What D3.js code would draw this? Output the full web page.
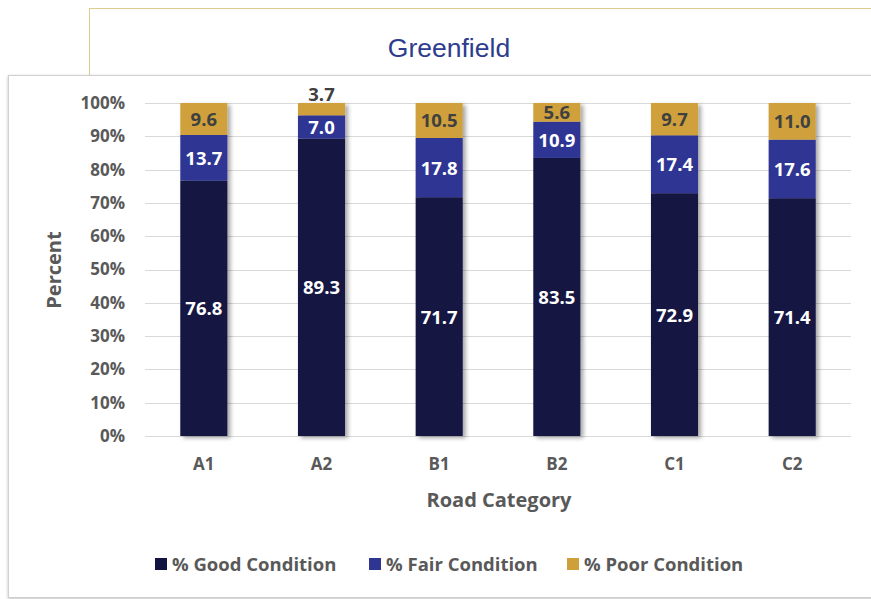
<!DOCTYPE html>
<html lang="en">
  <head>
    <meta charset="utf-8">
    <title>Greenfield</title>
    <script src="https://d3js.org/d3.v7.min.js"></script>
    <style type="text/css">
      body { margin: 0; background: #fff; }
      text { font-family: "Open Sans", Lato, sans-serif; font-weight: bold; }
      .grid line { stroke: #d9d9d9; stroke-width: 1px; }
      .axis text { fill: #595959; font-size: 17px; }
    </style>
  </head>
  <body>
    <script>
      var w = 871, h = 599;

      var categories = ["A1", "A2", "B1", "B2", "C1", "C2"];
      var good = [76.8, 89.3, 71.7, 83.5, 72.9, 71.4];
      var fair = [13.7, 7.0, 17.8, 10.9, 17.4, 17.6];
      var poor = [9.6, 3.7, 10.5, 5.6, 9.7, 11.0];
      var seriesNames = ["% Good Condition", "% Fair Condition", "% Poor Condition"];
      var colors = ["#131342", "#2e3592", "#cfa03a"];
      var labelColors = ["#ffffff", "#ffffff", "#404040"];
      var yTicks = [0, 0.1, 0.2, 0.3, 0.4, 0.5, 0.6, 0.7, 0.8, 0.9, 1];

      var svg = d3.select("body").append("svg")
          .attr("width", w).attr("height", h);

      var defs = svg.append("defs");
      var f = defs.append("filter").attr("id", "shadow")
          .attr("x", "-20%").attr("y", "-20%").attr("width", "160%").attr("height", "140%");
      f.append("feDropShadow").attr("dx", 3).attr("dy", 2).attr("stdDeviation", 2)
          .attr("flood-color", "#000").attr("flood-opacity", 0.35);
      var bf = defs.append("filter").attr("id", "boxshadow")
          .attr("x", "-5%").attr("y", "-5%").attr("width", "110%").attr("height", "110%");
      bf.append("feDropShadow").attr("dx", 0).attr("dy", 1).attr("stdDeviation", 1.5)
          .attr("flood-color", "#000").attr("flood-opacity", 0.25);

      // title box behind
      svg.append("rect").attr("x", 89.5).attr("y", 8.5).attr("width", 800).attr("height", 120)
          .attr("fill", "#fff").attr("stroke", "#e2c98e").attr("stroke-width", 1);
      svg.append("text").attr("x", 449).attr("y", 57).attr("text-anchor", "middle")
          .style("font-family", "'Liberation Sans', Arial, sans-serif").style("font-weight", "normal")
          .style("font-size", "26.5px").attr("fill", "#2d3c8e").text("Greenfield");

      // chart box
      svg.append("rect").attr("x", 8.5).attr("y", 75.5).attr("width", 880).attr("height", 522)
          .attr("fill", "#fff").attr("stroke", "#d0d0d0").attr("filter", "url(#boxshadow)");

      var rows = categories.map(function(c, i) {
        var t = good[i] + fair[i] + poor[i];
        return { cat: c, v: [good[i], fair[i], poor[i]], t: t };
      });

      var x = d3.scaleBand().domain(categories).range([145, 851])
          .paddingInner(0.6).paddingOuter(0.3);
      var y = d3.scaleLinear().domain([0, 1]).range([436, 103]);

      // gridlines
      svg.append("g").attr("class", "grid")
        .selectAll("line").data(yTicks).join("line")
          .attr("x1", 145).attr("x2", 851)
          .attr("y1", d => Math.round(y(d)) + 0.5).attr("y2", d => Math.round(y(d)) + 0.5);

      // y axis labels
      var yAxis = d3.axisLeft(y).tickValues(yTicks).tickFormat(d3.format(".0%"))
          .tickSize(0).tickPadding(20);
      svg.append("g").attr("class", "axis").attr("transform", "translate(145,0)")
          .call(yAxis).call(g => g.select(".domain").remove());

      // x axis labels
      var xAxis = d3.axisBottom(x).tickSize(0).tickPadding(22);
      svg.append("g").attr("class", "axis").attr("transform", "translate(0,436)")
          .call(xAxis).call(g => g.select(".domain").remove());

      // stacked segments
      var segs = [];
      rows.forEach(function(r) {
        var acc = 0;
        r.v.forEach(function(v, k) {
          segs.push({ cat: r.cat, k: k, v: v, y0: acc / r.t, y1: (acc + v) / r.t });
          acc += v;
        });
      });

      var bars = svg.append("g");
      bars.selectAll("g.bar").data(rows).join("g").attr("class", "bar")
          .attr("filter", "url(#shadow)")
        .each(function(r) {
          d3.select(this).selectAll("rect").data(segs.filter(s => s.cat === r.cat)).join("rect")
            .attr("x", d => x(d.cat)).attr("width", x.bandwidth())
            .attr("y", d => y(d.y1)).attr("height", d => y(d.y0) - y(d.y1))
            .attr("fill", d => colors[d.k]);
        });

      svg.append("g").selectAll("text").data(segs).join("text")
          .attr("x", d => x(d.cat) + x.bandwidth() / 2)
          .attr("y", function(d) {
            var hgt = y(d.y0) - y(d.y1);
            if (hgt < 15) return y(d.y1) - 2;
            return (y(d.y0) + y(d.y1)) / 2 + 7;
          })
          .attr("text-anchor", "middle").style("font-size", "18.5px")
          .attr("fill", d => (y(d.y0) - y(d.y1) < 15) ? "#404040" : labelColors[d.k])
          .text(d => d3.format(".1f")(d.v));

      // axis titles
      svg.append("text").attr("transform", "translate(61,270) rotate(-90)")
          .attr("text-anchor", "middle").style("font-size", "20px").attr("fill", "#595959")
          .text("Percent");
      svg.append("text").attr("x", 499).attr("y", 507).attr("text-anchor", "middle")
          .style("font-size", "20px").attr("fill", "#595959").text("Road Category");

      // legend
      var legX = [155, 369, 567];
      var leg = svg.append("g").selectAll("g").data(seriesNames).join("g")
          .attr("transform", (d, i) => "translate(" + legX[i] + ",558)");
      leg.append("rect").attr("width", 12).attr("height", 12).attr("fill", (d, i) => colors[i]);
      leg.append("text").attr("x", 17).attr("y", 12.5).style("font-size", "18.5px")
          .attr("fill", "#595959").text(d => d);
    </script>
  </body>
</html>
